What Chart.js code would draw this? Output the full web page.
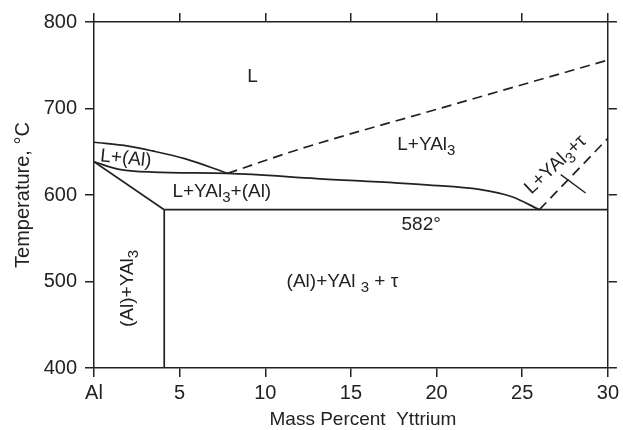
<!DOCTYPE html>
<html>
<head>
<meta charset="utf-8">
<script src="https://cdn.jsdelivr.net/npm/chart.js@4.4.1/dist/chart.umd.min.js"></script>
<style>
  body { margin: 0; background: #fff; }
  canvas { display: block; }
</style>
</head>
<body>
<canvas id="phaseChart" width="623" height="430"></canvas>
<script>
// x ticks: mass percent Y, first tick is pure Al
const xTickLabels = ['Al', '5', '10', '15', '20', '25', '30'];

// liquidus of (Al)
const alLiqX = [0, 2, 3.4, 5.3, 7.8];
const alLiqY = [661, 656.5, 651, 642, 625];

// lower boundary of L+(Al) and L+YAl3+(Al) -> eutectic
const lowerX = [0, 1.4, 3.4, 7.8, 13, 19.6, 22.5, 24.4, 26];
const lowerY = [638.5, 630, 626.5, 625, 619, 611.5, 606.5, 598, 583];

// (Al) solvus lines
const diagX = [0, 4.1];
const diagY = [638.5, 583];
const vertX = [4.1, 4.1];
const vertY = [583, 400];

// eutectic isotherm 582
const isoX = [4.1, 30];
const isoY = [583, 583];

// dashed liquidus of YAl3
const yal3LiqX = [7.8, 12, 20, 30];
const yal3LiqY = [625, 653, 699, 756];

// dashed L+YAl3+tau boundary
const tauX = [26, 30];
const tauY = [583, 665.5];

// small tie mark
const tieX = [27.25, 28.7];
const tieY = [623.5, 602.3];

// region labels: text parts, [text, isSubscript]
const labelParts = [
    [['L', 0]],
    [['L+YAl', 0], ['3', 1]],
    [['L+(Al)', 0]],
    [['L+YAl', 0], ['3', 1], ['+(Al)', 0]],
    [['582°', 0]],
    [['(Al)+YAl ', 0], ['3', 1], [' + τ', 0]],
    [['(Al)+YAl', 0], ['3', 1]],
    [['L+YAl', 0], ['3', 1], ['+τ', 0]]
];
const labelX = [9.26, 19.4, 1.86, 7.46, 19.1, 14.5, 2.0, 26.95];
const labelY = [737, 658, 642, 604, 566, 500, 492, 635];
const labelRot = [0, 0, 6, 0, 0, 0, -90, -43];

const xTitle = 'Mass Percent  Yttrium';
const xTitleAt = 15.7;

const FONT = "'Liberation Sans', Arial, sans-serif";
const INK = '#222';

function toPts(xs, ys) {
    return xs.map((x, i) => ({x: x, y: ys[i]}));
}

function line(xs, ys, opts) {
    return Object.assign({
        data: toPts(xs, ys),
        borderColor: INK,
        borderWidth: 1.7,
        pointRadius: 0,
        showLine: true,
        fill: false
    }, opts || {});
}

function drawParts(ctx, parts, x, y, rot) {
    const big = '19px ' + FONT;
    const small = '15px ' + FONT;
    let total = 0;
    parts.forEach(p => {
        ctx.font = p[1] ? small : big;
        total += ctx.measureText(p[0]).width;
    });
    ctx.save();
    ctx.translate(x, y);
    ctx.rotate(rot * Math.PI / 180);
    ctx.textBaseline = 'middle';
    ctx.textAlign = 'left';
    let cx = -total / 2;
    parts.forEach(p => {
        ctx.font = p[1] ? small : big;
        ctx.fillText(p[0], cx, p[1] ? 6 : 0);
        cx += ctx.measureText(p[0]).width;
    });
    ctx.restore();
}

const regionLabels = {
    id: 'regionLabels',
    afterDatasetsDraw(chart) {
        const ctx = chart.ctx;
        const sx = chart.scales.x, sy = chart.scales.y;
        ctx.fillStyle = INK;
        labelParts.forEach((parts, i) => {
            drawParts(ctx, parts, sx.getPixelForValue(labelX[i]), sy.getPixelForValue(labelY[i]), labelRot[i]);
        });
        // x axis title, a bit right of centre like the original
        ctx.save();
        ctx.font = '19px ' + FONT;
        ctx.textAlign = 'center';
        ctx.textBaseline = 'middle';
        ctx.fillText(xTitle, sx.getPixelForValue(xTitleAt), chart.height - 10);
        ctx.restore();
    }
};

const gridOpts = {
    drawOnChartArea: false,
    drawTicks: true,
    tickLength: 9,
    color: INK,
    lineWidth: 1.5
};
const borderOpts = { display: true, color: INK, width: 1.5 };

new Chart(document.getElementById('phaseChart'), {
    type: 'scatter',
    data: {
        datasets: [
            line(alLiqX, alLiqY, {cubicInterpolationMode: 'monotone'}),
            line(lowerX, lowerY, {cubicInterpolationMode: 'monotone'}),
            line(diagX, diagY),
            line(vertX, vertY),
            line(isoX, isoY),
            line(yal3LiqX, yal3LiqY, {borderDash: [10, 6], cubicInterpolationMode: 'monotone'}),
            line(tauX, tauY, {borderDash: [10, 6]}),
            line(tieX, tieY, {borderWidth: 1.4})
        ]
    },
    options: {
        responsive: false,
        animation: false,
        layout: { padding: 0 },
        plugins: { legend: { display: false }, tooltip: { enabled: false } },
        scales: {
            x: {
                type: 'linear', position: 'bottom', min: 0, max: 30,
                ticks: {
                    stepSize: 5, padding: 4, color: INK,
                    font: { family: FONT, size: 20 },
                    callback: (v) => xTickLabels[v / 5]
                },
                grid: gridOpts, border: borderOpts,
                afterFit: (s) => { s.height = 62; }
            },
            xTop: {
                type: 'linear', position: 'top', min: 0, max: 30,
                ticks: { stepSize: 5, display: false },
                grid: gridOpts, border: borderOpts,
                afterFit: (s) => { s.height = 22; }
            },
            y: {
                type: 'linear', position: 'left', min: 400, max: 800,
                ticks: { stepSize: 100, padding: 8, color: INK, font: { family: FONT, size: 20 } },
                grid: gridOpts, border: borderOpts,
                title: {
                    display: true, text: 'Temperature, °C', color: INK,
                    font: { family: FONT, size: 20 }, padding: { top: 11, bottom: 0 }
                },
                afterFit: (s) => { s.width = 94; }
            },
            yRight: {
                type: 'linear', position: 'right', min: 400, max: 800,
                ticks: { stepSize: 100, display: false },
                grid: gridOpts, border: borderOpts,
                afterFit: (s) => { s.width = 13; }
            }
        }
    },
    plugins: [regionLabels]
});
</script>
</body>
</html>
